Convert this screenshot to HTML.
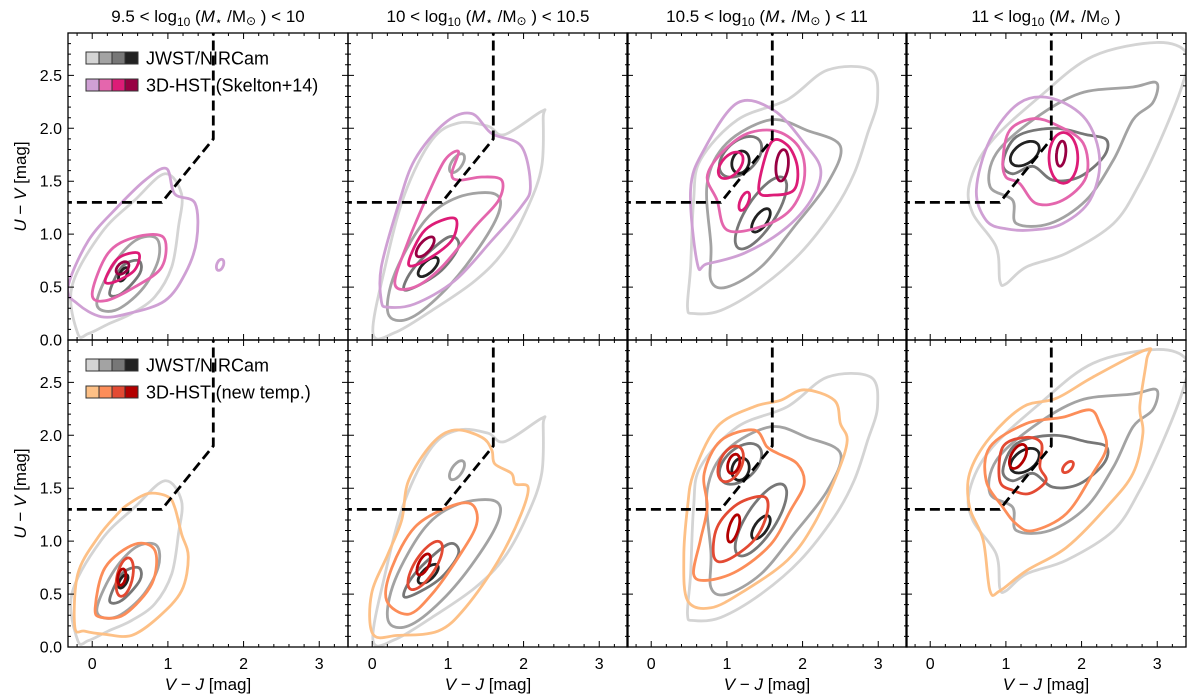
<!DOCTYPE html>
<html><head><meta charset="utf-8"><style>
body{margin:0;background:#fff;}
svg{display:block;font-family:"Liberation Sans","DejaVu Sans",sans-serif;}
</style></head><body>
<svg id="fig" width="1200" height="699" viewBox="0 0 1200 699" xmlns="http://www.w3.org/2000/svg"></svg>
<script>
// ---- data ----
const xTicks=[0,1,2,3];
const yTicks=[0.0,0.5,1.0,1.5,2.0,2.5];
const yTickLabels=["0.0","0.5","1.0","1.5","2.0","2.5"];
const massTitles=["9.5 < log","10 < log","10.5 < log","11 < log"];
const massTails=[" < 10"," < 10.5"," < 11",""];
const jwstColors=['#d4d4d4','#a3a3a3','#777777','#222222'];
const skelColors=['#cfa0d4','#e466ad','#dd1c77','#980043'];
const newColors=['#fdc086','#fc8d59','#e34a33','#b30000'];
const uvjBox=[[-0.4,1.3],[0.92,1.3],[1.6,1.9],[1.6,3.0]];
// contours: {l: level, p:[[V-J,U-V],...]} or {l, e:[cx,cy,a,b,deg]}
const jwst=[
[{l:0,p:[[-0.19,0.06],[-0.27,0.5],[0.12,1.01],[0.56,1.32],[0.96,1.57],[1.18,1.38],[1.14,1.07],[1.05,0.69],[0.83,0.41],[0.52,0.25],[0.21,0.15],[-0.05,0.06]]},
 {l:1,p:[[0.06,0.34],[0.26,0.69],[0.57,0.94],[0.85,0.96],[0.87,0.75],[0.65,0.47],[0.30,0.28]]},
 {l:2,p:[[0.23,0.44],[0.39,0.69],[0.61,0.75],[0.63,0.63],[0.39,0.44]]},
 {l:3,e:[0.41,0.62,0.08,0.04,45]}],
[{l:0,p:[[0.01,0.06],[0.17,0.69],[0.43,1.38],[0.79,1.89],[1.14,2.05],[1.53,2.02],[1.75,1.94],[2.24,2.16],[2.26,2.1],[2.24,1.64],[2.06,1.26],[1.75,0.85],[1.36,0.56],[0.79,0.28],[0.30,0.07]]},
 {l:1,p:[[0.21,0.25],[0.30,0.63],[0.70,1.13],[1.14,1.35],[1.62,1.38],[1.67,1.2],[1.36,0.82],[0.92,0.44],[0.48,0.20]]},
 {l:1,e:[1.12,1.67,0.12,0.06,40]},
 {l:2,p:[[0.43,0.47],[0.56,0.69],[1.00,0.97],[1.14,0.88],[0.87,0.63]]},
 {l:3,e:[0.74,0.69,0.15,0.06,30]}],
[{l:0,p:[[0.48,0.31],[0.52,0.69],[0.56,1.32],[0.65,1.70],[1.14,2.08],[1.80,2.27],[2.33,2.55],[2.90,2.55],[2.99,2.27],[2.86,1.95],[2.68,1.57],[2.42,1.23],[1.97,0.82],[1.45,0.50],[0.92,0.28],[0.56,0.25]]},
 {l:1,p:[[0.79,0.56],[0.79,0.88],[0.74,1.48],[1.00,1.86],[1.58,2.08],[2.06,1.98],[2.50,1.83],[2.33,1.48],[1.89,1.07],[1.45,0.69],[1.00,0.50]]},
 {l:2,e:[1.18,1.73,0.3,0.16,25]},
 {l:2,e:[1.45,1.20,0.45,0.17,45]},
 {l:3,e:[1.18,1.68,0.12,0.1,30]},
 {l:3,e:[1.45,1.13,0.15,0.07,40]}],
[{l:0,p:[[0.92,0.56],[0.87,0.88],[0.56,1.20],[0.52,1.48],[0.79,1.86],[1.45,2.30],[2.15,2.68],[2.99,2.81],[3.39,2.71],[3.34,2.43],[3.08,1.95],[2.77,1.48],[2.42,1.10],[1.80,0.82],[1.27,0.69],[1.00,0.53]]},
 {l:1,p:[[1.14,1.10],[1.09,1.32],[0.79,1.45],[0.87,1.76],[1.36,2.08],[1.98,2.33],[2.68,2.39],[2.99,2.43],[2.94,2.24],[2.68,2.08],[2.42,1.70],[2.06,1.32],[1.58,1.10]]},
 {l:2,p:[[0.96,1.67],[1.14,1.92],[1.62,2.00],[2.06,1.94],[2.33,1.89],[2.29,1.73],[1.97,1.54],[1.62,1.51],[1.36,1.64],[1.09,1.57]]},
 {l:3,e:[1.25,1.76,0.2,0.1,20]}]
];
const skelton=[
[{l:0,p:[[-0.32,0.5],[-0.05,0.94],[0.34,1.26],[0.70,1.51],[0.98,1.62],[1.09,1.38],[1.36,1.29],[1.38,0.94],[1.23,0.63],[0.96,0.37],[0.48,0.25],[0.12,0.22],[-0.19,0.34]]},
 {l:0,e:[1.69,0.71,0.06,0.04,50]},
 {l:1,p:[[0,0.44],[0.21,0.82],[0.56,0.97],[0.94,0.97],[0.92,0.69],[0.56,0.5],[0.17,0.37]]},
 {l:2,p:[[0.17,0.56],[0.34,0.77],[0.61,0.82],[0.56,0.66],[0.30,0.55]]},
 {l:3,e:[0.40,0.68,0.09,0.05,25]}],
[{l:0,p:[[0.12,0.37],[0.12,0.69],[0.34,1.26],[0.56,1.70],[0.96,2.05],[1.31,2.14],[1.58,1.95],[1.97,1.83],[2.09,1.45],[1.97,1.26],[1.58,0.94],[1.09,0.56],[0.56,0.34],[0.21,0.31]]},
 {l:1,p:[[0.30,0.53],[0.48,0.94],[0.74,1.38],[0.96,1.70],[1.14,1.78],[1.05,1.57],[1.14,1.51],[1.45,1.54],[1.71,1.51],[1.67,1.32],[1.36,1.07],[0.92,0.69],[0.56,0.5]]},
 {l:2,p:[[0.48,0.72],[0.70,1.04],[1.09,1.15],[1.05,0.94],[0.70,0.75]]},
 {l:3,e:[0.70,0.88,0.14,0.06,35]}],
[{l:0,p:[[0.61,0.72],[0.52,1.42],[0.70,1.80],[1.14,2.24],[1.62,2.17],[2.02,1.86],[2.24,1.61],[2.11,1.32],[1.75,1.04],[1.23,0.82],[0.74,0.72]]},
 {l:1,p:[[0.74,1.54],[0.92,1.76],[1.27,1.95],[1.67,1.97],[1.97,1.80],[2.02,1.51],[1.84,1.23],[1.45,1.07],[1.00,1.04],[0.87,1.32]]},
 {l:2,e:[1.05,1.65,0.18,0.1,30]},
 {l:2,p:[[1.42,1.42],[1.58,1.86],[1.80,1.84],[1.93,1.64],[1.89,1.42],[1.62,1.37]]},
 {l:2,e:[1.23,1.31,0.1,0.05,55]},
 {l:3,e:[1.73,1.65,0.15,0.08,80]}],
[{l:0,p:[[0.74,1.13],[0.61,1.42],[0.79,1.89],[1.18,2.24],[1.62,2.28],[2.06,2.08],[2.24,1.70],[2.11,1.32],[1.75,1.10],[1.36,1.04],[1.00,1.05]]},
 {l:1,p:[[0.96,1.70],[1.05,1.98],[1.36,2.09],[1.67,2.03],[2.02,1.86],[2.06,1.54],[1.75,1.32],[1.40,1.29],[1.18,1.48],[1.00,1.54]]},
 {l:2,e:[1.76,1.72,0.24,0.19,90]},
 {l:3,e:[1.73,1.76,0.12,0.06,80]}]
];
const newtemp=[
[{l:0,p:[[-0.23,0.19],[-0.19,0.69],[0.08,1.04],[0.34,1.26],[0.48,1.35],[0.74,1.45],[1.00,1.42],[1.09,1.32],[1.18,1.07],[1.27,0.85],[1.18,0.53],[0.87,0.28],[0.52,0.11],[0.17,0.12],[-0.10,0.15]]},
 {l:1,p:[[0.04,0.37],[0.17,0.75],[0.56,0.97],[0.83,0.91],[0.79,0.6],[0.43,0.31],[0.12,0.28]]},
 {l:2,e:[0.43,0.66,0.19,0.1,70]},
 {l:3,e:[0.39,0.66,0.08,0.05,70]}],
[{l:0,p:[[0.01,0.12],[-0.01,0.5],[0.21,0.88],[0.39,1.20],[0.48,1.57],[0.79,1.92],[1.09,2.05],[1.45,1.98],[1.58,1.86],[1.62,1.73],[1.84,1.64],[1.89,1.54],[2.06,1.51],[1.97,1.26],[1.67,0.82],[1.23,0.37],[0.87,0.15],[0.34,0.11]]},
 {l:1,p:[[0.19,0.44],[0.26,0.75],[0.56,1.13],[1.00,1.32],[1.31,1.35],[1.38,1.16],[1.14,0.85],[0.79,0.5],[0.48,0.31]]},
 {l:2,e:[0.70,0.77,0.3,0.12,45]},
 {l:3,e:[0.68,0.78,0.12,0.06,50]}],
[{l:0,p:[[0.48,0.44],[0.43,0.85],[0.48,1.32],[0.56,1.64],[0.87,2.08],[1.36,2.27],[1.71,2.33],[2.02,2.43],[2.42,2.33],[2.50,2.11],[2.59,1.95],[2.46,1.64],[2.15,1.16],[1.80,0.82],[1.23,0.53],[0.79,0.37]]},
 {l:1,p:[[0.56,0.69],[0.65,1.01],[0.74,1.32],[0.70,1.64],[0.92,1.95],[1.36,2.05],[1.53,1.89],[1.67,1.83],[1.93,1.73],[2.02,1.54],[1.84,1.29],[1.58,0.97],[1.14,0.72],[0.74,0.63]]},
 {l:2,e:[1.05,1.73,0.2,0.13,45]},
 {l:2,p:[[0.83,0.85],[0.87,1.13],[1.14,1.35],[1.49,1.42],[1.53,1.26],[1.36,1.01],[1.00,0.82]]},
 {l:3,e:[1.09,1.73,0.1,0.07,55]},
 {l:3,e:[1.09,1.12,0.14,0.06,65]}],
[{l:0,p:[[0.79,0.53],[0.70,1.01],[0.52,1.32],[0.52,1.64],[0.79,1.98],[1.23,2.27],[1.67,2.35],[2.15,2.55],[2.86,2.81],[2.86,2.71],[2.77,2.27],[2.81,2.02],[2.68,1.64],[2.33,1.32],[1.80,0.94],[1.27,0.72],[0.92,0.53]]},
 {l:1,p:[[0.96,1.32],[0.74,1.57],[0.79,1.89],[1.27,2.11],[1.75,2.17],[2.11,2.24],[2.24,2.11],[2.33,1.89],[2.15,1.64],[1.80,1.26],[1.36,1.10],[1.14,1.16]]},
 {l:2,p:[[0.92,1.57],[0.96,1.89],[1.27,1.98],[1.47,1.92],[1.45,1.70],[1.53,1.57],[1.31,1.45],[1.09,1.48]]},
 {l:2,e:[1.82,1.70,0.08,0.04,30]},
 {l:3,e:[1.16,1.80,0.14,0.08,45]}]
];
// ---- layout ----
const panelX=[68,348,627,906], panelW=280, rowY=[33,340], panelH=307;
const xmin=-0.32,xmax=3.38,ymin=0,ymax=2.9;
const NS='http://www.w3.org/2000/svg';
const svg=document.getElementById('fig');
function mk(tag,attrs,parent){const e=document.createElementNS(NS,tag);for(const k in attrs)e.setAttribute(k,attrs[k]);(parent||svg).appendChild(e);return e;}
function sx(c,v){return panelX[c]+(v-xmin)/(xmax-xmin)*panelW;}
function sy(r,v){return rowY[r]+panelH-(v-ymin)/(ymax-ymin)*panelH;}
function ellPts(e){const [cx,cy,a,b,d]=e;const t=d*Math.PI/180;const out=[];for(let i=0;i<24;i++){const u=i/24*2*Math.PI;out.push([cx+a*Math.cos(u)*Math.cos(t)-b*Math.sin(u)*Math.sin(t),cy+a*Math.cos(u)*Math.sin(t)+b*Math.sin(u)*Math.cos(t)]);}return out;}
function closedPath(P){const n=P.length;let d=`M${P[0][0].toFixed(1)},${P[0][1].toFixed(1)}`;for(let i=0;i<n;i++){const p0=P[(i-1+n)%n],p1=P[i],p2=P[(i+1)%n],p3=P[(i+2)%n];const c1=[p1[0]+(p2[0]-p0[0])/6,p1[1]+(p2[1]-p0[1])/6],c2=[p2[0]-(p3[0]-p1[0])/6,p2[1]-(p3[1]-p1[1])/6];d+=`C${c1[0].toFixed(1)},${c1[1].toFixed(1)} ${c2[0].toFixed(1)},${c2[1].toFixed(1)} ${p2[0].toFixed(1)},${p2[1].toFixed(1)}`;}return d+'Z';}
function drawSet(g,r,c,set,colors,name){set.forEach((ct,i)=>{const pts=(ct.p||ellPts(ct.e)).map(q=>[sx(c,q[0]),sy(r,q[1])]);const el=mk('path',{d:closedPath(pts),fill:'none',stroke:colors[ct.l],'stroke-width':2.8,'stroke-linejoin':'round'},g);

});}
for(let r=0;r<2;r++){for(let c=0;c<4;c++){
 const g=mk('g',{});
 
 
 const cid='clip'+r+c;const cp=mk('clipPath',{id:cid},g);mk('rect',{x:panelX[c],y:rowY[r],width:panelW,height:panelH},cp);
 const cg=mk('g',{'clip-path':`url(#${cid})`},g);
 drawSet(cg,r,c,jwst[c],jwstColors,'jwst');
 drawSet(cg,r,c,r===0?skelton[c]:newtemp[c],r===0?skelColors:newColors,r===0?'skelton':'newtemp');
 const bp=uvjBox.map(q=>`${sx(c,q[0]).toFixed(1)},${sy(r,q[1]).toFixed(1)}`).join(' ');
 const bx=mk('polyline',{points:bp,fill:'none',stroke:'#000','stroke-width':2.8,'stroke-dasharray':'10,5'},cg);
 
 
 const x0=panelX[c],x1=x0+panelW,y0=rowY[r],y1=y0+panelH;
 let td='';
 for(let v=-0.2;v<=3.4;v+=0.2){const vv=Math.round(v*10)/10;const X=sx(c,vv);if(X<x0||X>x1)continue;const L=(Math.abs(vv-Math.round(vv))<1e-6)?6:3;td+=`M${X},${y1}v${-L}M${X},${y0}v${L}`;}
 for(let v=0;v<=2.9;v+=0.1){const vv=Math.round(v*10)/10;const Y=sy(r,vv);const L=(Math.abs(vv*2-Math.round(vv*2))<1e-6)?6:3;td+=`M${x0},${Y}h${L}M${x1},${Y}h${-L}`;}
 const tk=mk('path',{d:td,stroke:'#000','stroke-width':1,fill:'none'},g);
 
 
 const fr=mk('rect',{x:x0,y:y0,width:panelW,height:panelH,fill:'none',stroke:'#000','stroke-width':1.3},g);
 
 
 if(c===0){yTicks.forEach((v,i)=>{const t=mk('text',{x:x0-6,y:sy(r,v)+5.5,'text-anchor':'end','font-size':16},g);t.textContent=yTickLabels[i];
 
 });
 const yl=mk('text',{x:0,y:0,transform:`translate(26,${y0+panelH/2}) rotate(-90)`,'text-anchor':'middle','font-size':17},g);
 yl.innerHTML='<tspan font-style="italic">U</tspan> − <tspan font-style="italic">V</tspan> [mag]';
 
 }
 if(r===1){xTicks.forEach(v=>{const t=mk('text',{x:sx(c,v),y:y1+22,'text-anchor':'middle','font-size':16},g);t.textContent=String(v);
 
 });
 const xl=mk('text',{x:x0+panelW/2,y:y1+43,'text-anchor':'middle','font-size':17},g);
 xl.innerHTML='<tspan font-style="italic">V</tspan> − <tspan font-style="italic">J</tspan> [mag]';
 
 }
 if(r===0){const t=mk('text',{x:x0+panelW/2,y:22,'text-anchor':'middle','font-size':17},g);
 t.innerHTML=massTitles[c]+'<tspan font-size="12" dy="4">10</tspan><tspan dy="-4"> (</tspan><tspan font-style="italic">M</tspan><tspan font-size="12" dy="3">⋆</tspan><tspan dy="-3"> /M</tspan><tspan font-size="12" dy="3">⊙</tspan><tspan dy="-3"> )</tspan>'+massTails[c];
 
 }
 if(c===0){const lg=mk('g',{},g);
 
 
 const rows=[[jwstColors,'JWST/NIRCam'],[r===0?skelColors:newColors,r===0?'3D-HST (Skelton+14)':'3D-HST (new temp.)']];
 rows.forEach((rw,i)=>{const yy=y0+19+i*27;rw[0].forEach((col,k)=>{mk('rect',{x:86+k*13,y:yy,width:13,height:12,fill:col,stroke:'#333','stroke-width':1},lg);});
 const t=mk('text',{x:146,y:yy+12.5,'font-size':18},lg);t.textContent=rw[1];
 
 });}
}}
</script>
</body></html>
